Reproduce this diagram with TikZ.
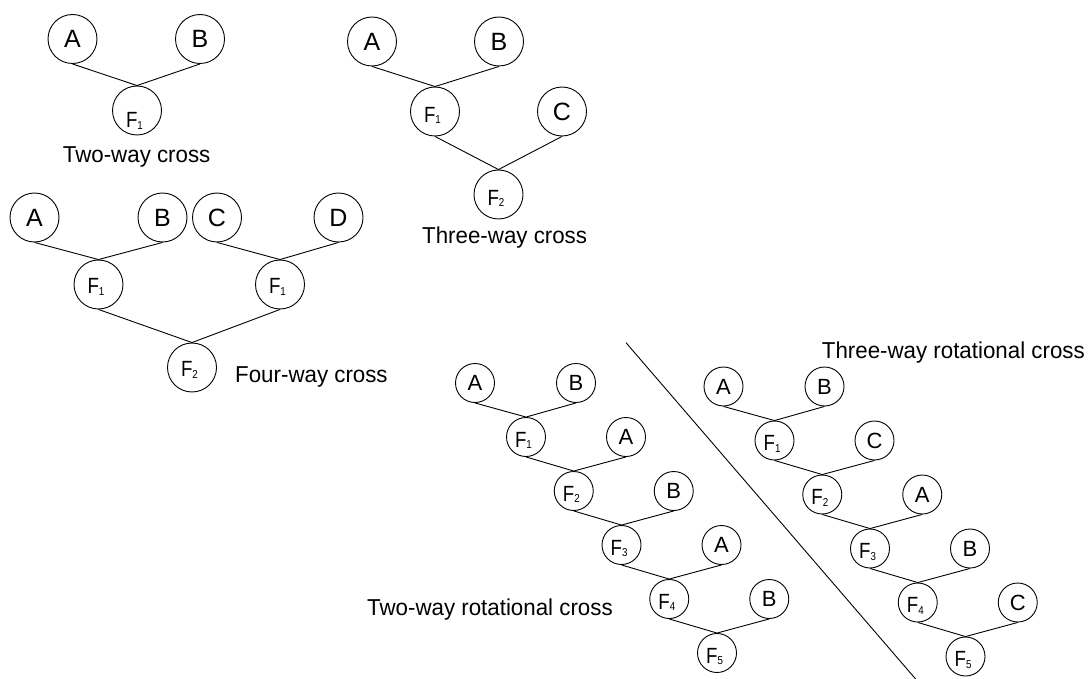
\documentclass[tikz,border=0pt]{standalone}
\usepackage{fontspec}
\setmainfont{Liberation Sans}
\newfontfamily\lblfont{Liberation Sans}[FakeStretch=0.97]

% generation label: narrowed F followed by a small, slightly lowered index
\newcommand\Fk[1]{\scalebox{0.85}[1]{\fontsize{22}{22}\selectfont F\raisebox{-1.5pt}{\fontsize{11.5}{11.5}\selectfont #1}}\kern5pt}

\tikzset{
  leaf/.style={circle, draw, line width=0.9pt, inner sep=0pt, minimum size=49pt,
               font=\fontsize{25}{25}\selectfont},
  leafsm/.style={leaf, minimum size=39pt, font=\fontsize{22}{22}\selectfont},
  fbig/.style={leaf, text height=21.75pt, text depth=0pt},
  fsm/.style={leafsm, text height=20.75pt, text depth=0pt},
  edgeline/.style={line width=0.9pt},
  caption/.style={anchor=base west, inner sep=0pt, font=\lblfont\fontsize{23}{23}\selectfont},
}

\begin{document}
\begin{tikzpicture}[x=1pt, y=-1pt]
\fill[white] (0,0) rectangle (1092,679);
\useasboundingbox (0,0) rectangle (1092,679);

% ---- two-way cross
\node[leaf] (tA) at (72.5,39) {A};
\node[leaf] (tB) at (200,39) {B};
\node[fbig, text height=34.75pt] (tF) at (137,110.5) {\Fk{1}};
\draw[edgeline] (tA.south) -- (tF.north) (tB.south) -- (tF.north);
\node[caption] (tcap) at (62.7,163) {Two-way cross};

% ---- three-way cross
\node[leaf] (hA) at (372,41.5) {A};
\node[leaf] (hB) at (499,41.5) {B};
\node[fbig] (hF1) at (435,111.5) {\Fk{1}};
\node[leaf] (hC) at (562,111.5) {C};
\node[fbig] (hF2) at (498.5,194.5) {\Fk{2}};
\draw[edgeline] (hA.south) -- (hF1.north) (hB.south) -- (hF1.north)
                (hF1.south) -- (hF2.north) (hC.south) -- (hF2.north);
\node[caption] (hcap) at (422,243.3) {Three-way cross};

% ---- four-way cross
\node[leaf] (qA) at (34.5,217.5) {A};
\node[leaf] (qB) at (162.5,217.5) {B};
\node[leaf] (qC) at (217,217.5) {C};
\node[leaf] (qD) at (338.5,217.5) {D};
\node[fbig, text height=18pt] (qF1) at (98.5,284.5) {\Fk{1}};
\node[fbig, text height=18pt] (qF1b) at (280,284.5) {\Fk{1}};
\node[fbig, text height=18pt] (qF2) at (192,367.5) {\Fk{2}};
\draw[edgeline] (qA.south) -- (qF1.north) (qB.south) -- (qF1.north)
                (qC.south) -- (qF1b.north) (qD.south) -- (qF1b.north)
                (qF1.south) -- (qF2.north) (qF1b.south) -- (qF2.north);
\node[caption] (qcap) at (235,382.7) {Four-way cross};

% ---- two-way rotational cross
\begin{scope}[shift={(475,383)}]
  \node[leafsm] (ra) at (0,0) {A};
  \node[leafsm] (rb) at (101,0) {B};
  \node[fsm] (rf1) at (51,54) {\Fk{1}};
  \node[leafsm] (rs1) at (151,54) {A};
  \node[fsm] (rf2) at (98.75,108) {\Fk{2}};
  \node[leafsm] (rs2) at (198.75,108) {B};
  \node[fsm] (rf3) at (146.5,162) {\Fk{3}};
  \node[leafsm] (rs3) at (246.5,162) {A};
  \node[fsm] (rf4) at (194.25,216) {\Fk{4}};
  \node[leafsm] (rs4) at (294.25,216) {B};
  \node[fsm] (rf5) at (242,270) {\Fk{5}};
  \draw[edgeline] (ra.south) -- (rf1.north) (rb.south) -- (rf1.north)
                  (rf1.south) -- (rf2.north) (rs1.south) -- (rf2.north)
                  (rf2.south) -- (rf3.north) (rs2.south) -- (rf3.north)
                  (rf3.south) -- (rf4.north) (rs3.south) -- (rf4.north)
                  (rf4.south) -- (rf5.north) (rs4.south) -- (rf5.north);
\end{scope}
\node[caption] (rcap) at (367,615) {Two-way rotational cross};

% ---- three-way rotational cross
\begin{scope}[shift={(723.5,386.5)}]
  \node[leafsm] (wa) at (0,0) {A};
  \node[leafsm] (wb) at (101,0) {B};
  \node[fsm] (wf1) at (51,54) {\Fk{1}};
  \node[leafsm] (ws1) at (151,54) {C};
  \node[fsm] (wf2) at (98.75,108) {\Fk{2}};
  \node[leafsm] (ws2) at (198.75,108) {A};
  \node[fsm] (wf3) at (146.5,162) {\Fk{3}};
  \node[leafsm] (ws3) at (246.5,162) {B};
  \node[fsm] (wf4) at (194.25,216) {\Fk{4}};
  \node[leafsm] (ws4) at (294.25,216) {C};
  \node[fsm] (wf5) at (242,270) {\Fk{5}};
  \draw[edgeline] (wa.south) -- (wf1.north) (wb.south) -- (wf1.north)
                  (wf1.south) -- (wf2.north) (ws1.south) -- (wf2.north)
                  (wf2.south) -- (wf3.north) (ws2.south) -- (wf3.north)
                  (wf3.south) -- (wf4.north) (ws3.south) -- (wf4.north)
                  (wf4.south) -- (wf5.north) (ws4.south) -- (wf5.north);
\end{scope}
\node[caption] (wcap) at (821.7,358.3) {Three-way rotational cross};

% ---- divider between the two rotational schemes
\coordinate (d1) at (626,342.7);
\coordinate (d2) at (915.6,679);
\draw[edgeline] (d1) -- (d2);
\end{tikzpicture}
\end{document}
